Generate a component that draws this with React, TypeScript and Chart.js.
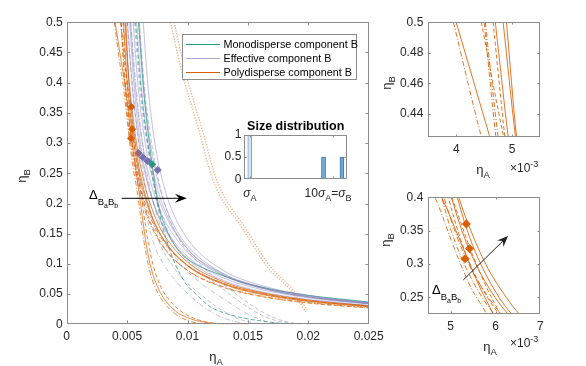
import React, { useEffect, useRef } from "react";
import { Chart, registerables } from "chart.js";

Chart.register(...registerables);

const FONT = '"Liberation Sans", Arial, Helvetica, sans-serif';
const TXT = "#262626";
const AXIS = "#8c8c8c";

// ---------------- data (η_A in units of 10^-3) ----------------
const mainXTicks = [0, 5, 10, 15, 20, 25];
const mainXTickLabels = ["0", "0.005", "0.01", "0.015", "0.02", "0.025"];
const mainYTicks = [0, 0.05, 0.1, 0.15, 0.2, 0.25, 0.3, 0.35, 0.4, 0.45, 0.5];
const mainYTickLabels = ["0", "0.05", "0.1", "0.15", "0.2", "0.25", "0.3", "0.35", "0.4", "0.45", "0.5"];
const topRXTicks = [4, 5];
const topRXTickLabels = ["4", "5"];
const topRYTicks = [0.44, 0.46, 0.48, 0.5];
const topRYTickLabels = ["0.44", "0.46", "0.48", "0.5"];
const botRXTicks = [5, 6, 7];
const botRXTickLabels = ["5", "6", "7"];
const botRYTicks = [0.25, 0.3, 0.35, 0.4];
const botRYTickLabels = ["0.25", "0.3", "0.35", "0.4"];
const insetXTicks = [0.1, 1.0];
const insetYTicks = [0, 0.5, 1];
const insetYTickLabels = ["0", "0.5", "1"];
const sizeA_x = [0.1];
const sizeA_y = [1];
const sizeB_x = [0.9, 1.1];
const sizeB_y = [0.5, 0.5];

const legendLabels = ["Monodisperse component B", "Effective component B", "Polydisperse component B"];

// Polydisperse component B (orange)
const orangeLowSolid = [[4.0, 0.5], [4.6, 0.425], [4.8, 0.4], [5.3, 0.32], [5.65, 0.265], [5.95, 0.225], [6.25, 0.18], [6.6, 0.13], [7.0, 0.092], [7.5, 0.063], [8.0, 0.044], [9.0, 0.022], [10.0, 0.011], [11.0, 0.005], [12.2, 0.0015], [15.0, 0]];
const orangeLowDashDot = [[3.95, 0.5], [4.45, 0.425], [4.65, 0.4], [5.1, 0.32], [5.45, 0.265], [5.8, 0.225], [6.1, 0.18], [6.45, 0.13], [6.85, 0.09], [7.3, 0.062], [7.9, 0.04], [8.8, 0.02], [9.8, 0.008], [10.8, 0.002], [12.0, 0]];
const orangeLowDashed = [[4.45, 0.5], [4.85, 0.425], [5.02, 0.4], [5.45, 0.32], [5.8, 0.265], [6.1, 0.225], [6.4, 0.18], [6.8, 0.13], [7.2, 0.095], [7.7, 0.066], [8.3, 0.045], [9.3, 0.024], [10.3, 0.012], [11.5, 0.004], [13.0, 0]];
const orangeA = [[4.70, 0.5], [4.93, 0.425], [5.02, 0.4], [5.25, 0.35], [5.56, 0.3], [5.99, 0.25], [6.28, 0.225], [7.00, 0.18], [8, 0.141], [10, 0.098], [13, 0.0675], [16, 0.0514], [20, 0.039], [25, 0.030]];
const orangeB = [[4.52, 0.5], [4.75, 0.425], [4.85, 0.4], [5.09, 0.35], [5.40, 0.3], [5.84, 0.25], [6.13, 0.225], [6.87, 0.18], [8, 0.1375], [10, 0.0971], [13, 0.0673], [16, 0.0516], [20, 0.0393], [25, 0.0303]];
const orangeC = [[4.84, 0.5], [5.06, 0.425], [5.15, 0.4], [5.37, 0.35], [5.67, 0.3], [6.08, 0.25], [6.36, 0.225], [7.04, 0.18], [8, 0.1409], [10, 0.0969], [13, 0.066], [16, 0.05], [20, 0.0378], [25, 0.029]];
const orangeD = [[4.66, 0.5], [4.87, 0.425], [4.95, 0.4], [5.16, 0.35], [5.43, 0.3], [5.82, 0.25], [6.08, 0.225], [6.72, 0.18], [8, 0.1289], [10, 0.0892], [13, 0.061], [16, 0.0464], [20, 0.0352], [25, 0.027]];
const orangeE = [[4.90, 0.5], [5.08, 0.425], [5.18, 0.4], [5.45, 0.35], [5.78, 0.3], [6.24, 0.25], [6.53, 0.225], [7.27, 0.18], [8, 0.15], [10, 0.1031], [13, 0.0702], [16, 0.0532], [20, 0.0402], [25, 0.0308]];
const orangeF = [[4.50, 0.5], [4.71, 0.425], [4.80, 0.4], [5.01, 0.35], [5.30, 0.3], [5.70, 0.25], [5.97, 0.225], [6.63, 0.18], [8, 0.1277], [10, 0.0896], [13, 0.0619], [16, 0.0472], [20, 0.0359], [25, 0.0276]];
const orangeDot1 = [[8.6, 0.5], [9.5, 0.42], [11.0, 0.317], [12.1, 0.239], [14.65, 0.156], [16.6, 0.095], [18.5, 0.057], [19.8, 0.021]];
const orangeDot2 = [[8.9, 0.5], [9.8, 0.42], [11.3, 0.317], [12.4, 0.24], [14.9, 0.156], [16.8, 0.097], [18.7, 0.058], [19.9, 0.024]];
const orangeMarkers = [[5.35, 0.36], [5.42, 0.323], [5.32, 0.308]];

// Effective component B (purple)
const purple1 = [[5.04, 0.5], [5.4, 0.4], [6.0, 0.3], [6.48, 0.25], [7.2, 0.2], [8, 0.1636], [10, 0.1125], [13, 0.0766], [16, 0.0581], [20, 0.0439], [25, 0.0336]];
const purple2 = [[5.28, 0.5], [5.65, 0.4], [6.27, 0.3], [6.76, 0.25], [7.5, 0.2], [8, 0.1762], [10, 0.1194], [13, 0.0804], [16, 0.0607], [20, 0.0457], [25, 0.0349]];
const purple3 = [[5.5, 0.5], [5.88, 0.4], [6.5, 0.3], [7.0, 0.25], [7.75, 0.2], [10, 0.125], [13, 0.0833], [16, 0.0625], [20, 0.0469], [25, 0.0357]];
const purple4 = [[5.22, 0.5], [5.55, 0.4], [6.1, 0.3], [6.54, 0.25], [7.2, 0.2], [8, 0.161], [10, 0.1082], [13, 0.0725], [16, 0.0545], [20, 0.0412], [25, 0.0313]];
const purple5 = [[5.8, 0.5], [6.15, 0.4], [6.73, 0.3], [7.2, 0.25], [7.9, 0.2], [10, 0.125], [13, 0.0814], [16, 0.0603], [20, 0.0449], [25, 0.034]];
const purple6 = [[6.0, 0.5], [6.35, 0.4], [6.93, 0.3], [7.4, 0.25], [8.1, 0.2], [9, 0.159], [10, 0.1296], [13, 0.0833], [16, 0.0614], [20, 0.0455], [25, 0.0343]];
const purple7 = [[6.34, 0.5], [6.7, 0.4], [7.3, 0.3], [7.78, 0.25], [8.5, 0.2], [10, 0.1412], [13, 0.0889], [16, 0.0649], [20, 0.0477], [25, 0.0358]];
const purpleDash1 = [[5.0, 0.5], [5.5, 0.38], [6.1, 0.28], [6.8, 0.2], [7.6, 0.14], [8.84, 0.095], [10, 0.068], [11, 0.051], [12.2, 0.032], [13.3, 0.018], [14.5, 0.007], [16, 0.001], [17, 0]];
const purpleDash2 = [[5.3, 0.5], [5.8, 0.38], [6.4, 0.28], [7.2, 0.2], [8.1, 0.145], [9.4, 0.1], [10.5, 0.078], [12, 0.055], [13.3, 0.038], [14.9, 0.018], [16.5, 0.005], [18, 0]];
const purpleDash3 = [[5.6, 0.5], [6.1, 0.38], [6.8, 0.28], [7.6, 0.2], [8.6, 0.145], [9.8, 0.11], [11, 0.088], [12.7, 0.062], [14, 0.042], [15.5, 0.022], [17, 0.008], [18.5, 0.0016], [19.6, 0]];
const purpleDash4 = [[4.8, 0.5], [5.25, 0.38], [5.8, 0.28], [6.4, 0.2], [7.1, 0.14], [8, 0.1], [9.2, 0.068], [10.5, 0.042], [12, 0.02], [13.5, 0.007], [15, 0.001], [16, 0]];
const purpleDash5 = [[6.0, 0.5], [6.5, 0.38], [7.2, 0.28], [8.1, 0.2], [9.2, 0.145], [10.5, 0.11], [12, 0.082], [13.5, 0.058], [15, 0.036], [16.5, 0.017], [18, 0.005], [19.5, 0]];
const purpleMarkers = [[5.94, 0.2835], [6.3, 0.2765], [6.68, 0.2704], [7.54, 0.2555]];

// Monodisperse component B (green)
const greenSolid = [[5.94, 0.5], [6.4, 0.38], [7.07, 0.265], [7.57, 0.2], [8.3, 0.155], [9.1, 0.126], [10, 0.108], [13, 0.08], [16, 0.062], [20, 0.048], [25, 0.037]];
const greenDash = [[5.7, 0.5], [6.2, 0.38], [6.85, 0.28], [7.5, 0.2], [8.5, 0.125], [9.67, 0.073], [10.8, 0.048], [11.9, 0.029], [13.5, 0.016], [15, 0.009], [16.3, 0.005], [18, 0.001], [19, 0]];
const greenMarkers = [[7.07, 0.265]];

// annotation arrows [x1, y1, x2, y2]
const mainArrow = [4.56, 0.2086, 9.95, 0.2086];
const botRArrow = [5.28, 0.276, 6.28, 0.342];

// ---------------- styles ----------------
const ORANGE = "rgba(217,95,2,0.85)";
const ORANGE_M = "#d95f02";
const PURPLE = "rgba(117,112,179,0.55)";
const PURPLE_M = "#7570b3";
const GREEN = "rgba(27,158,119,0.85)";
const GREEN_M = "#1b9e77";
const DOTTED = "rgba(236,128,55,0.65)";
const SOLID: number[] = [];
const DASH = [4, 2.5];
const DASHDOT = [5, 2, 1, 2];
const DOT = [1.2, 1.6];

const orangeSet = [
  { pts: orangeLowSolid, dash: SOLID },
  { pts: orangeLowDashDot, dash: DASHDOT },
  { pts: orangeLowDashed, dash: DASH },
  { pts: orangeA, dash: SOLID },
  { pts: orangeB, dash: DASHDOT },
  { pts: orangeC, dash: SOLID },
  { pts: orangeD, dash: DASH },
  { pts: orangeE, dash: SOLID },
  { pts: orangeF, dash: DASHDOT },
];
const purpleSet = [
  { pts: purple1, dash: SOLID }, { pts: purple2, dash: SOLID }, { pts: purple3, dash: SOLID },
  { pts: purple4, dash: SOLID }, { pts: purple5, dash: SOLID }, { pts: purple6, dash: SOLID },
  { pts: purple7, dash: SOLID },
  { pts: purpleDash1, dash: DASH }, { pts: purpleDash2, dash: DASHDOT }, { pts: purpleDash3, dash: DASH },
  { pts: purpleDash4, dash: DASHDOT }, { pts: purpleDash5, dash: DASH },
];

const toXY = (pts: number[][]) => pts.map(([x, y]) => ({ x, y }));

function lineDS(pts: number[][], color: string, dash: number[], width = 1): any {
  return {
    type: "line",
    data: toXY(pts),
    borderColor: color,
    borderWidth: width,
    borderDash: dash,
    pointRadius: 0,
    pointHoverRadius: 0,
    fill: false,
    cubicInterpolationMode: "monotone",
  };
}
function markerDS(pts: number[][], color: string, r: number): any {
  return {
    type: "line",
    data: toXY(pts),
    showLine: false,
    pointStyle: "rectRot",
    pointRadius: r,
    pointHoverRadius: r,
    backgroundColor: color,
    borderColor: color,
    borderWidth: 1,
  };
}

function orangeDatasets(width: number) {
  return orangeSet.map((c) => lineDS(c.pts, ORANGE, c.dash, width));
}

// ---------------- plugins ----------------
function boxPlugin(tickLen: number, fillWhite = false): any {
  return {
    id: "matlabBox",
    beforeDraw(chart: any) {
      if (!fillWhite) return;
      const { ctx, chartArea: a } = chart;
      ctx.save();
      ctx.fillStyle = "#fff";
      ctx.fillRect(a.left, a.top, a.right - a.left, a.bottom - a.top);
      ctx.restore();
    },
    afterDraw(chart: any) {
      const { ctx, chartArea: a, scales } = chart;
      const L = Math.round(a.left) + 0.5;
      const R = Math.round(a.right) - 0.5;
      const T = Math.round(a.top) + 0.5;
      const B = Math.round(a.bottom) - 0.5;
      ctx.save();
      ctx.strokeStyle = AXIS;
      ctx.lineWidth = 1;
      ctx.strokeRect(L, T, R - L, B - T);
      ctx.beginPath();
      scales.x.ticks.forEach((t: any) => {
        const p = Math.round(scales.x.getPixelForValue(t.value)) + 0.5;
        if (p < L + 1 || p > R - 1) return;
        ctx.moveTo(p, B); ctx.lineTo(p, B - tickLen);
        ctx.moveTo(p, T); ctx.lineTo(p, T + tickLen);
      });
      scales.y.ticks.forEach((t: any) => {
        const p = Math.round(scales.y.getPixelForValue(t.value)) + 0.5;
        if (p < T + 1 || p > B - 1) return;
        ctx.moveTo(L, p); ctx.lineTo(L + tickLen, p);
        ctx.moveTo(R, p); ctx.lineTo(R - tickLen, p);
      });
      ctx.stroke();
      ctx.restore();
    },
  };
}

function arrowPlugin(arrow: number[], headLen: number, headW: number, color: string): any {
  return {
    id: "arrow",
    afterDatasetsDraw(chart: any) {
      const { ctx, scales } = chart;
      const x1 = scales.x.getPixelForValue(arrow[0]);
      const y1 = scales.y.getPixelForValue(arrow[1]);
      const x2 = scales.x.getPixelForValue(arrow[2]);
      const y2 = scales.y.getPixelForValue(arrow[3]);
      const ang = Math.atan2(y2 - y1, x2 - x1);
      ctx.save();
      ctx.strokeStyle = color;
      ctx.fillStyle = color;
      ctx.lineWidth = 1;
      ctx.beginPath();
      ctx.moveTo(x1, y1);
      ctx.lineTo(x2 - Math.cos(ang) * headLen * 0.6, y2 - Math.sin(ang) * headLen * 0.6);
      ctx.stroke();
      ctx.translate(x2, y2);
      ctx.rotate(ang);
      ctx.beginPath();
      ctx.moveTo(0, 0);
      ctx.lineTo(-headLen, -headW);
      ctx.lineTo(-headLen * 0.65, 0);
      ctx.lineTo(-headLen, headW);
      ctx.closePath();
      ctx.fill();
      ctx.restore();
    },
  };
}

function axis(min: number, max: number, ticks: number[], labels: string[] | null, fit: number, horizontal: boolean, padding: number, fontSize = 12): any {
  return {
    type: "linear",
    min,
    max,
    offset: false,
    grid: { display: false, drawTicks: false },
    border: { display: false },
    afterBuildTicks: (s: any) => {
      s.ticks = ticks.map((v) => ({ value: v }));
    },
    afterFit: (s: any) => {
      if (horizontal) s.height = fit;
      else s.width = fit;
    },
    ticks: {
      display: labels !== null,
      callback: (_v: any, i: number) => (labels ? labels[i] : ""),
      autoSkip: false,
      maxRotation: 0,
      minRotation: 0,
      padding,
      color: TXT,
      font: { size: fontSize, family: FONT },
    },
  };
}

function baseOptions(padding: any, x: any, y: any): any {
  return {
    responsive: false,
    animation: false,
    events: [],
    layout: { padding },
    plugins: { legend: { display: false }, tooltip: { enabled: false }, title: { display: false } },
    scales: { x, y },
  };
}

// ---------------- overlays ----------------
const Eta = ({ sub, cx, cy, rot }: { sub: string; cx: number; cy: number; rot?: boolean }) => (
  <div
    style={{
      position: "absolute",
      left: cx,
      top: cy,
      transform: `translate(-50%, -50%)${rot ? " rotate(-90deg)" : ""}`,
      fontSize: 13,
      lineHeight: "13px",
      color: TXT,
      whiteSpace: "nowrap",
      fontFamily: FONT,
    }}
  >
    η<span style={{ fontSize: 9.5, position: "relative", top: 4 }}>{sub}</span>
  </div>
);

const Times = ({ left, cy }: { left: number; cy: number }) => (
  <div style={{ position: "absolute", left, top: cy - 7, fontSize: 12, lineHeight: "14px", color: TXT, whiteSpace: "nowrap", fontFamily: FONT }}>
    ×10<span style={{ fontSize: 9, position: "relative", top: -5 }}>-3</span>
  </div>
);

const Delta = ({ left, top }: { left: number; top: number }) => (
  <div style={{ position: "absolute", left, top, fontSize: 13, lineHeight: "13px", color: "#000", whiteSpace: "nowrap", fontFamily: FONT }}>
    Δ
    <span style={{ fontSize: 9.5, position: "relative", top: 6 }}>
      B<span style={{ fontSize: 7, position: "relative", top: 3 }}>a</span>B
      <span style={{ fontSize: 7, position: "relative", top: 3 }}>b</span>
    </span>
  </div>
);

const legendColors = [GREEN_M, "rgba(117,112,179,0.6)", ORANGE_M];

export default function App() {
  const mainRef = useRef<HTMLCanvasElement>(null);
  const insetRef = useRef<HTMLCanvasElement>(null);
  const trRef = useRef<HTMLCanvasElement>(null);
  const brRef = useRef<HTMLCanvasElement>(null);

  useEffect(() => {
    Chart.defaults.font.family = FONT;
    Chart.defaults.font.size = 12;
    Chart.defaults.color = TXT;

    const mainDatasets = [
      ...purpleSet.map((c) => lineDS(c.pts, PURPLE, c.dash, 0.8)),
      lineDS(greenSolid, GREEN, SOLID, 0.9),
      lineDS(greenDash, GREEN, DASH, 0.9),
      ...orangeDatasets(0.85),
      lineDS(orangeDot1, DOTTED, DOT, 1.3),
      lineDS(orangeDot2, DOTTED, DOT, 1.3),
      markerDS(orangeMarkers, ORANGE_M, 3.5),
      markerDS(purpleMarkers, PURPLE_M, 3.5),
      markerDS(greenMarkers, GREEN_M, 3.5),
    ];

    const main = new Chart(mainRef.current as HTMLCanvasElement, {
      type: "line",
      data: { datasets: mainDatasets },
      options: baseOptions(
        { top: 22.3, right: 31.3, left: 0, bottom: 0 },
        axis(0, 25, mainXTicks, mainXTickLabels, 41.7, true, 5),
        axis(0, 0.5, mainYTicks, mainYTickLabels, 66.7, false, 4)
      ),
      plugins: [boxPlugin(3), arrowPlugin(mainArrow, 12, 4.5, "#000")],
    } as any);

    const inset = new Chart(insetRef.current as HTMLCanvasElement, {
      type: "bar",
      data: {
        datasets: [
          {
            data: sizeA_x.map((x, i) => ({ x, y: sizeA_y[i] })),
            backgroundColor: "#d4e5f5",
            borderColor: "#4d86bd",
            borderWidth: 0.8,
            barThickness: 4,
            grouped: false,
          },
          {
            data: sizeB_x.map((x, i) => ({ x, y: sizeB_y[i] })),
            backgroundColor: "#6ea7d8",
            borderColor: "#2e6496",
            borderWidth: 0.8,
            barThickness: 4,
            grouped: false,
          },
        ],
      },
      options: baseOptions(
        { top: 23, right: 8, left: 0, bottom: 0 },
        axis(0.04, 1.155, insetXTicks, null, 28.7, true, 3),
        axis(0, 1, insetYTicks, insetYTickLabels, 19.3, false, 3)
      ),
      plugins: [boxPlugin(2, true)],
    } as any);

    const tr = new Chart(trRef.current as HTMLCanvasElement, {
      type: "line",
      data: { datasets: orangeDatasets(1) },
      options: baseOptions(
        { top: 22.3, right: 46, left: 0, bottom: 0 },
        axis(3.5, 5.5, topRXTicks, topRXTickLabels, 43.3, true, 6),
        axis(0.425, 0.5, topRYTicks, topRYTickLabels, 48.3, false, 5)
      ),
      plugins: [boxPlugin(2)],
    } as any);

    const br = new Chart(brRef.current as HTMLCanvasElement, {
      type: "line",
      data: { datasets: [...orangeDatasets(1), markerDS(orangeMarkers, ORANGE_M, 4)] },
      options: baseOptions(
        { top: 17.3, right: 45.7, left: 0, bottom: 0 },
        axis(4.5, 7, botRXTicks, botRXTickLabels, 52, true, 5),
        axis(0.225, 0.4, botRYTicks, botRYTickLabels, 48.3, false, 5)
      ),
      plugins: [boxPlugin(2), arrowPlugin(botRArrow, 11, 4.5, "#222")],
    } as any);

    return () => {
      main.destroy();
      inset.destroy();
      tr.destroy();
      br.destroy();
    };
  }, []);

  return (
    <div style={{ position: "absolute", left: 0, top: 0, width: 586, height: 366, background: "#fff", overflow: "hidden", fontFamily: FONT }}>
      <canvas ref={mainRef} width={400} height={366} style={{ position: "absolute", left: 0, top: 0 }} />
      <canvas ref={trRef} width={206} height={180} style={{ position: "absolute", left: 380, top: 0 }} />
      <canvas ref={brRef} width={206} height={186} style={{ position: "absolute", left: 380, top: 180 }} />
      <canvas ref={insetRef} width={130} height={96} style={{ position: "absolute", left: 225, top: 112 }} />

      {/* inset title and tick labels */}
      <div style={{ position: "absolute", left: 295.7, top: 126, transform: "translate(-50%, -50%)", fontSize: 12.5, fontWeight: "bold", color: "#000", whiteSpace: "nowrap" }}>
        Size distribution
      </div>
      <div style={{ position: "absolute", left: 250, top: 193, transform: "translate(-50%, -50%)", fontSize: 12, lineHeight: "12px", color: TXT, whiteSpace: "nowrap" }}>
        <i>σ</i><span style={{ fontSize: 9, position: "relative", top: 4 }}>A</span>
      </div>
      <div style={{ position: "absolute", left: 328, top: 193, transform: "translate(-50%, -50%)", fontSize: 12, lineHeight: "12px", color: TXT, whiteSpace: "nowrap" }}>
        10<i>σ</i><span style={{ fontSize: 9, position: "relative", top: 4 }}>A</span>=<i>σ</i><span style={{ fontSize: 9, position: "relative", top: 4 }}>B</span>
      </div>

      {/* legend */}
      <div style={{ position: "absolute", left: 181.5, top: 33.5, width: 175, height: 46, border: `1px solid ${AXIS}`, background: "#fff", boxSizing: "border-box" }}>
        {legendLabels.map((lab, i) => (
          <div key={lab} style={{ position: "absolute", left: 0, top: 2 + i * 14.3, height: 14, width: "100%" }}>
            <div style={{ position: "absolute", left: 3, top: 7, width: 34, height: 1, background: legendColors[i] }} />
            <div style={{ position: "absolute", left: 41, top: 0, fontSize: 10.8, lineHeight: "14px", color: "#000", whiteSpace: "nowrap" }}>{lab}</div>
          </div>
        ))}
      </div>

      {/* axis titles */}
      <Eta sub="B" cx={22} cy={176} rot />
      <Eta sub="A" cx={216} cy={357} />
      <Eta sub="B" cx={387} cy={83} rot />
      <Eta sub="A" cx={483} cy={170} />
      <Times left={510} cy={168} />
      <Eta sub="B" cx={386} cy={240} rot />
      <Eta sub="A" cx={490} cy={347} />
      <Times left={510} cy={343} />

      {/* annotations */}
      <Delta left={89} top={188} />
      <Delta left={432} top={283} />
    </div>
  );
}
